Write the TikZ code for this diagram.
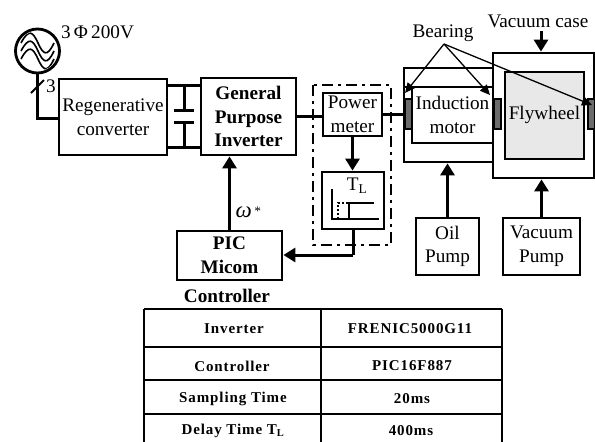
\documentclass[tikz,border=0pt]{standalone}
\usepackage{fontspec}
\setmainfont{Liberation Serif}
\newfontfamily\tabf[LetterSpace=6]{Liberation Serif}
\usetikzlibrary{arrows.meta}
\tikzset{
  x=1pt,y=-1pt,
  blk/.style={draw,line width=2.8pt,rectangle,inner sep=0pt,align=center,font=\fontsize{19.2}{23.5}\selectfont,fill=white},
  wire/.style={line width=3pt},
  arr/.style={line width=3pt,-{Triangle[length=12pt,width=14pt]}},
  thinarr/.style={line width=1.3pt,-{Triangle[length=10pt,width=9pt]}},
  bearing/.style={draw,line width=2pt,fill=black!58,minimum width=7pt,minimum height=30pt,inner sep=0pt},
  lbl/.style={font=\fontsize{19.2}{23.5}\selectfont,inner sep=0pt,align=center},
  blbl/.style={font=\fontsize{19.2}{23.5}\selectfont\bfseries,inner sep=0pt,align=center},
  cell/.style={font=\tabf\fontsize{15}{17}\selectfont\bfseries,inner sep=0pt,anchor=center},
  tline/.style={line width=1.8pt}
}
\begin{document}
\begin{tikzpicture}
\useasboundingbox (0,0) rectangle (595,442);
% housings
\node[blk,minimum width=89pt,minimum height=94pt] (house) at (448.5,115) {};
\node[blk,minimum width=101pt,minimum height=125pt] (case) at (543.5,115.5) {};
\node[blk,minimum width=79pt,minimum height=87pt,fill=black!9] (fly) at (544.5,115.5) {};
\node[lbl] (flylab) at (544.5,115) {Flywheel};
\node[blk,minimum width=81pt,minimum height=56pt] (motor) at (452.5,115) {Induction\\motor};
\coordinate (mt1) at (405,87);
\coordinate (mt2) at (412,87);
\draw[line width=2.8pt] (mt1) -- (mt2);
\node[bearing] (b1) at (408.5,113.5) {};
\node[bearing] (b2) at (497.5,113.5) {};
\node[bearing] (b3) at (591,113.5) {};
% source
\node[draw,circle,line width=2.8pt,minimum size=44pt,inner sep=0pt] (src) at (37.5,51) {};
\begin{scope}
\clip (37.5,51) circle (20pt);
\foreach \d in {-8,0,8}{
  \draw[line width=1.6pt] (21,51+\d) .. controls (29,36+\d) and (33,40+\d) .. (38,51+\d) .. controls (43,62+\d) and (47,66+\d) .. (54,51+\d);
}
\end{scope}
\node[lbl,anchor=west] (v) at (61,32) {3\,Φ\,200V};
% main blocks
\node[blk,minimum width=108pt,minimum height=76pt] (reg) at (113,117) {Regenerative\\converter};
\node[blk,minimum width=95pt,minimum height=77pt,font=\fontsize{19.2}{23.5}\selectfont\bfseries] (inv) at (248.5,116.5) {General\\Purpose\\Inverter};
\node[blk,minimum width=59pt,minimum height=43pt] (pm) at (352.5,114.5) {Power\\meter};
\node[blk,minimum width=62pt,minimum height=57pt] (tl) at (353,200.5) {};
\node[blk,minimum width=105pt,minimum height=49pt,font=\fontsize{19.2}{24}\selectfont\bfseries] (pic) at (229.5,255.5) {PIC\\Micom};
\node[blbl] (ctl) at (227,295.5) {Controller};
\node[blk,minimum width=63pt,minimum height=57pt] (oil) at (447.5,246.5) {Oil\\Pump};
\node[blk,minimum width=77pt,minimum height=57pt] (vac) at (541.5,246.5) {Vacuum\\Pump};
% dash-dot enclosure
\draw[line width=2.6pt,dash pattern=on 11pt off 5pt on 3pt off 5pt] (313,85) rectangle (391,245);
% capacitor
\coordinate (captop) at (184,85);
\coordinate (capbot) at (184,147);
\draw[wire] (reg.east |- captop) -- (inv.west |- captop);
\draw[wire] (reg.east |- capbot) -- (inv.west |- capbot);
\draw[wire] (captop) -- (184,110) (174,110) -- (194,110) (174,122) -- (194,122) (184,122) -- (capbot);
% source wire
\coordinate (bend) at (37.5,118);
\draw[wire] (src.south) -- (bend) -- (reg.west |- bend);
\draw[line width=2pt] (31,93) -- (44,80);
\node[lbl] (three) at (51,86) {3};
% connectors
\draw[wire] (inv.east) -- (pm.west |- inv.east);
\draw[wire] (pm.east) -- (b1.west |- pm.east);
\draw[arr] (pm.south) -- (pm.south |- tl.north);
\coordinate (tlb) at (353,255);
\draw[wire] (tl.south) -- (tlb);
\draw[arr] (tlb) -- (pic.east |- tlb);
\draw[arr] (pic.north) -- (pic.north |- inv.south);
\node[font=\fontsize{23}{24}\selectfont\itshape,inner sep=0pt] (w) at (248,212) {ω\raisebox{2pt}{\fontsize{13}{13}\selectfont\,*}};
\draw[arr] (oil.north) -- (oil.north |- house.south);
\draw[arr] (vac.north) -- (vac.north |- case.south);
% TL graph
\node[lbl] (tll) at (357,186) {T\textsubscript{L}};
\draw[line width=1.5pt] (332,189) -- (332,219) -- (379,219);
\draw[line width=1.5pt] (374,203) -- (349,203) -- (349,219);
\draw[line width=1.5pt,dash pattern=on 2pt off 2pt] (338,219) -- (338,203) -- (349,203);
% labels
\node[lbl] (bear) at (443,33) {Bearing};
\node[lbl] (vc) at (538,21) {Vacuum case};
\coordinate (bs) at (444,44);
\coordinate (t1) at (405,93);
\coordinate (t2) at (490,95);
\coordinate (t3) at (592,105);
\draw[thinarr] (bs) -- (t1);
\draw[thinarr] (bs) -- (t2);
\draw[thinarr] (bs) -- (t3);
\draw[arr] (541,31) -- (case.north -| 541,31);
% table
\draw[line width=2.6pt] (144,309) -- (144,442) (502,309) -- (502,442);
\draw[tline] (144,309) -- (502,309) (144,347) -- (502,347) (144,380) -- (502,380) (144,414) -- (502,414) (321,309) -- (321,442);
\node[cell] (c11) at (234,329) {Inverter};
\node[cell] (c12) at (410,329) {FRENIC5000G11};
\node[cell] (c21) at (232,366) {Controller};
\node[cell] (c22) at (412,366) {PIC16F887};
\node[cell] (c31) at (233,399) {Sampling Time};
\node[cell] (c32) at (412,399) {20ms};
\node[cell] (c41) at (233,431) {Delay Time T\textsubscript{L}};
\node[cell] (c42) at (411,431) {400ms};
\end{tikzpicture}
\end{document}
